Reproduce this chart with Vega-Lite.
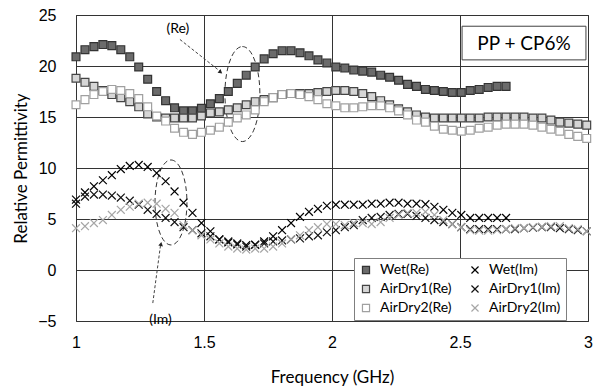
{
  "$schema": "https://vega.github.io/schema/vega-lite/v6.json",
  "width": 512,
  "height": 306,
  "autosize": {"type": "none"},
  "padding": {"left": 76, "top": 15, "right": 7, "bottom": 70},
  "background": "white",
  "config": {
    "view": {"stroke": "#333", "strokeWidth": 1},
    "axis": {
      "grid": true, "gridColor": "#333", "gridWidth": 1, "gridOpacity": 1,
      "ticks": false, "domain": false,
      "labelFont": "Liberation Sans", "labelFontSize": 16, "labelColor": "#000",
      "labelFlush": false, "labelOverlap": false, "labelBound": false,
      "titleFont": "Lato", "titleFontSize": 17, "titleFontWeight": "normal", "titleColor": "#000"
    }
  },
  "datasets": {
    "pts": [
      {"f": 1.000, "Wet(Re)": 20.9, "Wet(Im)": 6.9, "AirDry1(Re)": 18.8, "AirDry1(Im)": 6.5, "AirDry2(Re)": 16.2, "AirDry2(Im)": 4.1},
      {"f": 1.035, "Wet(Re)": 21.6, "Wet(Im)": 7.6, "AirDry1(Re)": 18.4, "AirDry1(Im)": 7.2, "AirDry2(Re)": 16.7, "AirDry2(Im)": 4.3},
      {"f": 1.070, "Wet(Re)": 21.9, "Wet(Im)": 8.2, "AirDry1(Re)": 18.0, "AirDry1(Im)": 7.4, "AirDry2(Re)": 17.2, "AirDry2(Im)": 4.6},
      {"f": 1.105, "Wet(Re)": 22.1, "Wet(Im)": 8.8, "AirDry1(Re)": 17.6, "AirDry1(Im)": 7.4, "AirDry2(Re)": 17.5, "AirDry2(Im)": 4.9},
      {"f": 1.140, "Wet(Re)": 22.0, "Wet(Im)": 9.3, "AirDry1(Re)": 17.2, "AirDry1(Im)": 7.3, "AirDry2(Re)": 17.7, "AirDry2(Im)": 5.4},
      {"f": 1.175, "Wet(Re)": 21.6, "Wet(Im)": 9.9, "AirDry1(Re)": 16.9, "AirDry1(Im)": 7.1, "AirDry2(Re)": 17.6, "AirDry2(Im)": 5.9},
      {"f": 1.210, "Wet(Re)": 20.9, "Wet(Im)": 10.2, "AirDry1(Re)": 16.5, "AirDry1(Im)": 6.8, "AirDry2(Re)": 17.3, "AirDry2(Im)": 6.2},
      {"f": 1.245, "Wet(Re)": 19.9, "Wet(Im)": 10.3, "AirDry1(Re)": 16.0, "AirDry1(Im)": 6.4, "AirDry2(Re)": 16.8, "AirDry2(Im)": 6.5},
      {"f": 1.280, "Wet(Re)": 18.7, "Wet(Im)": 10.1, "AirDry1(Re)": 15.3, "AirDry1(Im)": 5.9, "AirDry2(Re)": 16.0, "AirDry2(Im)": 6.6},
      {"f": 1.315, "Wet(Re)": 17.5, "Wet(Im)": 9.5, "AirDry1(Re)": 15.0, "AirDry1(Im)": 5.5, "AirDry2(Re)": 15.1, "AirDry2(Im)": 6.5},
      {"f": 1.350, "Wet(Re)": 16.6, "Wet(Im)": 8.7, "AirDry1(Re)": 14.9, "AirDry1(Im)": 5.1, "AirDry2(Re)": 14.6, "AirDry2(Im)": 6.0},
      {"f": 1.385, "Wet(Re)": 15.9, "Wet(Im)": 7.7, "AirDry1(Re)": 14.9, "AirDry1(Im)": 4.7, "AirDry2(Re)": 13.9, "AirDry2(Im)": 5.6},
      {"f": 1.420, "Wet(Re)": 15.6, "Wet(Im)": 6.6, "AirDry1(Re)": 14.9, "AirDry1(Im)": 4.2, "AirDry2(Re)": 13.5, "AirDry2(Im)": 4.4},
      {"f": 1.455, "Wet(Re)": 15.6, "Wet(Im)": 5.6, "AirDry1(Re)": 14.9, "AirDry1(Im)": 3.9, "AirDry2(Re)": 13.3, "AirDry2(Im)": 3.9},
      {"f": 1.490, "Wet(Re)": 15.85, "Wet(Im)": 4.6, "AirDry1(Re)": 15.1, "AirDry1(Im)": 3.6, "AirDry2(Re)": 13.5, "AirDry2(Im)": 3.4},
      {"f": 1.525, "Wet(Re)": 16.3, "Wet(Im)": 3.8, "AirDry1(Re)": 15.4, "AirDry1(Im)": 3.3, "AirDry2(Re)": 13.7, "AirDry2(Im)": 3.0},
      {"f": 1.560, "Wet(Re)": 16.8, "Wet(Im)": 3.0, "AirDry1(Re)": 15.5, "AirDry1(Im)": 3.0, "AirDry2(Re)": 14.0, "AirDry2(Im)": 2.6},
      {"f": 1.595, "Wet(Re)": 17.5, "Wet(Im)": 2.7, "AirDry1(Re)": 15.7, "AirDry1(Im)": 2.8, "AirDry2(Re)": 14.5, "AirDry2(Im)": 2.3},
      {"f": 1.630, "Wet(Re)": 18.3, "Wet(Im)": 2.5, "AirDry1(Re)": 15.9, "AirDry1(Im)": 2.6, "AirDry2(Re)": 14.9, "AirDry2(Im)": 2.1},
      {"f": 1.665, "Wet(Re)": 19.1, "Wet(Im)": 2.45, "AirDry1(Re)": 16.2, "AirDry1(Im)": 2.3, "AirDry2(Re)": 15.2, "AirDry2(Im)": 2.0},
      {"f": 1.700, "Wet(Re)": 19.9, "Wet(Im)": 2.5, "AirDry1(Re)": 16.5, "AirDry1(Im)": 2.45, "AirDry2(Re)": 15.7, "AirDry2(Im)": 2.1},
      {"f": 1.735, "Wet(Re)": 20.7, "Wet(Im)": 2.8, "AirDry1(Re)": 16.7, "AirDry1(Im)": 2.6, "AirDry2(Re)": 16.5, "AirDry2(Im)": 2.1},
      {"f": 1.770, "Wet(Re)": 21.2, "Wet(Im)": 3.3, "AirDry1(Re)": 16.9, "AirDry1(Im)": 2.8, "AirDry2(Re)": 16.9, "AirDry2(Im)": 2.3},
      {"f": 1.805, "Wet(Re)": 21.5, "Wet(Im)": 3.9, "AirDry1(Re)": 17.2, "AirDry1(Im)": 2.9, "AirDry2(Re)": 17.2, "AirDry2(Im)": 2.6},
      {"f": 1.840, "Wet(Re)": 21.5, "Wet(Im)": 4.6, "AirDry1(Re)": 17.3, "AirDry1(Im)": 3.0, "AirDry2(Re)": 17.3, "AirDry2(Im)": 3.0},
      {"f": 1.875, "Wet(Re)": 21.3, "Wet(Im)": 5.2, "AirDry1(Re)": 17.3, "AirDry1(Im)": 3.1, "AirDry2(Re)": 17.2, "AirDry2(Im)": 3.4},
      {"f": 1.910, "Wet(Re)": 21.0, "Wet(Im)": 5.7, "AirDry1(Re)": 17.3, "AirDry1(Im)": 3.3, "AirDry2(Re)": 17.0, "AirDry2(Im)": 3.9},
      {"f": 1.945, "Wet(Re)": 20.6, "Wet(Im)": 6.0, "AirDry1(Re)": 17.4, "AirDry1(Im)": 3.4, "AirDry2(Re)": 16.7, "AirDry2(Im)": 4.2},
      {"f": 1.980, "Wet(Re)": 20.3, "Wet(Im)": 6.3, "AirDry1(Re)": 17.5, "AirDry1(Im)": 3.7, "AirDry2(Re)": 16.3, "AirDry2(Im)": 4.5},
      {"f": 2.015, "Wet(Re)": 19.9, "Wet(Im)": 6.4, "AirDry1(Re)": 17.6, "AirDry1(Im)": 3.9, "AirDry2(Re)": 16.1, "AirDry2(Im)": 4.5},
      {"f": 2.050, "Wet(Re)": 19.8, "Wet(Im)": 6.4, "AirDry1(Re)": 17.6, "AirDry1(Im)": 4.2, "AirDry2(Re)": 15.9, "AirDry2(Im)": 4.4},
      {"f": 2.085, "Wet(Re)": 19.6, "Wet(Im)": 6.4, "AirDry1(Re)": 17.5, "AirDry1(Im)": 4.4, "AirDry2(Re)": 15.9, "AirDry2(Im)": 4.6},
      {"f": 2.120, "Wet(Re)": 19.5, "Wet(Im)": 6.4, "AirDry1(Re)": 17.3, "AirDry1(Im)": 4.9, "AirDry2(Re)": 16.0, "AirDry2(Im)": 4.6},
      {"f": 2.155, "Wet(Re)": 19.4, "Wet(Im)": 6.5, "AirDry1(Re)": 17.0, "AirDry1(Im)": 5.1, "AirDry2(Re)": 16.1, "AirDry2(Im)": 4.5},
      {"f": 2.190, "Wet(Re)": 19.1, "Wet(Im)": 6.5, "AirDry1(Re)": 16.6, "AirDry1(Im)": 5.2, "AirDry2(Re)": 16.1, "AirDry2(Im)": 4.7},
      {"f": 2.225, "Wet(Re)": 18.9, "Wet(Im)": 6.6, "AirDry1(Re)": 16.2, "AirDry1(Im)": 5.4, "AirDry2(Re)": 15.9, "AirDry2(Im)": 5.1},
      {"f": 2.260, "Wet(Re)": 18.6, "Wet(Im)": 6.6, "AirDry1(Re)": 15.8, "AirDry1(Im)": 5.5, "AirDry2(Re)": 15.6, "AirDry2(Im)": 5.4},
      {"f": 2.295, "Wet(Re)": 18.2, "Wet(Im)": 6.5, "AirDry1(Re)": 15.5, "AirDry1(Im)": 5.5, "AirDry2(Re)": 15.2, "AirDry2(Im)": 5.6},
      {"f": 2.330, "Wet(Re)": 18.0, "Wet(Im)": 6.5, "AirDry1(Re)": 15.2, "AirDry1(Im)": 5.3, "AirDry2(Re)": 14.7, "AirDry2(Im)": 5.6},
      {"f": 2.365, "Wet(Re)": 17.7, "Wet(Im)": 6.45, "AirDry1(Re)": 15.0, "AirDry1(Im)": 5.1, "AirDry2(Re)": 14.5, "AirDry2(Im)": 5.7},
      {"f": 2.400, "Wet(Re)": 17.6, "Wet(Im)": 6.2, "AirDry1(Re)": 14.9, "AirDry1(Im)": 4.9, "AirDry2(Re)": 14.1, "AirDry2(Im)": 5.4},
      {"f": 2.435, "Wet(Re)": 17.5, "Wet(Im)": 5.9, "AirDry1(Re)": 14.9, "AirDry1(Im)": 4.7, "AirDry2(Re)": 13.8, "AirDry2(Im)": 4.9},
      {"f": 2.470, "Wet(Re)": 17.4, "Wet(Im)": 5.6, "AirDry1(Re)": 14.9, "AirDry1(Im)": 4.5, "AirDry2(Re)": 13.7, "AirDry2(Im)": 4.5},
      {"f": 2.505, "Wet(Re)": 17.4, "Wet(Im)": 5.4, "AirDry1(Re)": 14.9, "AirDry1(Im)": 4.2, "AirDry2(Re)": 13.6, "AirDry2(Im)": 4.2},
      {"f": 2.540, "Wet(Re)": 17.6, "Wet(Im)": 5.1, "AirDry1(Re)": 14.9, "AirDry1(Im)": 4.0, "AirDry2(Re)": 13.7, "AirDry2(Im)": 3.9},
      {"f": 2.575, "Wet(Re)": 17.7, "Wet(Im)": 5.1, "AirDry1(Re)": 14.9, "AirDry1(Im)": 4.0, "AirDry2(Re)": 13.9, "AirDry2(Im)": 3.85},
      {"f": 2.610, "Wet(Re)": 17.9, "Wet(Im)": 5.1, "AirDry1(Re)": 15.0, "AirDry1(Im)": 4.0, "AirDry2(Re)": 14.0, "AirDry2(Im)": 3.85},
      {"f": 2.645, "Wet(Re)": 18.0, "Wet(Im)": 5.1, "AirDry1(Re)": 15.0, "AirDry1(Im)": 4.0, "AirDry2(Re)": 14.2, "AirDry2(Im)": 3.9},
      {"f": 2.680, "Wet(Re)": 18.0, "Wet(Im)": 5.1, "AirDry1(Re)": 15.0, "AirDry1(Im)": 4.0, "AirDry2(Re)": 14.3, "AirDry2(Im)": 4.0},
      {"f": 2.715, "AirDry1(Re)": 15.0, "AirDry1(Im)": 4.0, "AirDry2(Re)": 14.3, "AirDry2(Im)": 4.1},
      {"f": 2.750, "AirDry1(Re)": 15.0, "AirDry1(Im)": 4.1, "AirDry2(Re)": 14.3, "AirDry2(Im)": 4.1},
      {"f": 2.785, "AirDry1(Re)": 14.9, "AirDry1(Im)": 4.15, "AirDry2(Re)": 14.2, "AirDry2(Im)": 4.2},
      {"f": 2.820, "AirDry1(Re)": 14.9, "AirDry1(Im)": 4.2, "AirDry2(Re)": 14.0, "AirDry2(Im)": 4.25},
      {"f": 2.855, "AirDry1(Re)": 14.7, "AirDry1(Im)": 4.2, "AirDry2(Re)": 13.8, "AirDry2(Im)": 4.3},
      {"f": 2.890, "AirDry1(Re)": 14.5, "AirDry1(Im)": 4.1, "AirDry2(Re)": 13.6, "AirDry2(Im)": 4.3},
      {"f": 2.925, "AirDry1(Re)": 14.4, "AirDry1(Im)": 4.0, "AirDry2(Re)": 13.3, "AirDry2(Im)": 4.1},
      {"f": 2.960, "AirDry1(Re)": 14.3, "AirDry1(Im)": 3.9, "AirDry2(Re)": 13.1, "AirDry2(Im)": 4.0},
      {"f": 2.995, "AirDry1(Re)": 14.2, "AirDry1(Im)": 3.8, "AirDry2(Re)": 12.9, "AirDry2(Im)": 3.8}
    ]
  },
  "encoding": {
    "x": {"field": "f", "type": "quantitative",
      "scale": {"domain": [1, 3], "nice": false, "zero": false},
      "axis": {"values": [1, 1.5, 2, 2.5, 3], "format": "~g", "title": "Frequency (GHz)", "labelPadding": 13, "titlePadding": 19}},
    "y": {"field": "v", "type": "quantitative",
      "scale": {"domain": [-5, 25], "nice": false, "zero": false},
      "axis": {"values": [-5, 0, 5, 10, 15, 20, 25], "format": "d", "title": "Relative Permittivity", "labelPadding": 20, "titlePadding": 7}}
  },
  "layer": [
    {
      "data": {"values": [{"f": 2.508, "f2": 2.992, "v": 23.9, "v2": 20.6}]},
      "mark": {"type": "rect", "fill": "white", "stroke": "#404040", "strokeWidth": 1},
      "encoding": {"x2": {"field": "f2"}, "y2": {"field": "v2"}}
    },
    {
      "data": {"values": [{"f": 2.75, "v": 22.2, "t": "PP + CP6%"}]},
      "mark": {"type": "text", "font": "Lato", "fontSize": 19, "color": "#000", "align": "center", "baseline": "middle"},
      "encoding": {"text": {"field": "t"}}
    },
    {
      "data": {"values": [{"f": 1.65, "v": 17.25}]},
      "mark": {"type": "point", "shape": "M0,-1A0.368,1,0,1,1,0,1A0.368,1,0,1,1,0,-1Z", "size": 9025, "filled": false, "opacity": 1, "stroke": "#333", "strokeWidth": 1, "strokeDash": [5, 3]}
    },
    {
      "data": {"values": [{"f": 1.371, "v": 6.62}]},
      "mark": {"type": "point", "shape": "M0,-1A0.376,1,0,1,1,0,1A0.376,1,0,1,1,0,-1Z", "size": 7225, "filled": false, "opacity": 1, "stroke": "#333", "strokeWidth": 1, "strokeDash": [5, 3]}
    },
    {
      "data": {"values": [{"f": 1.406, "v": 22.6, "f2": 1.562, "v2": 19.5}, {"f": 1.30, "v": -3.24, "f2": 1.33, "v2": 2.4}]},
      "mark": {"type": "rule", "stroke": "#444", "strokeWidth": 1, "strokeDash": [3, 2]},
      "encoding": {"x2": {"field": "f2"}, "y2": {"field": "v2"}}
    },
    {
      "data": {"values": [{"f": 1.565, "v": 19.4}]},
      "mark": {"type": "point", "shape": "triangle-up", "size": 22, "filled": true, "opacity": 1, "color": "#222", "angle": 129}
    },
    {
      "data": {"values": [{"f": 1.332, "v": 2.55}]},
      "mark": {"type": "point", "shape": "triangle-up", "size": 22, "filled": true, "opacity": 1, "color": "#222", "angle": 10}
    },
    {
      "data": {"values": [{"f": 1.398, "v": 23.6, "t": "(Re)"}, {"f": 1.33, "v": -4.9, "t": "(Im)"}]},
      "mark": {"type": "text", "font": "Lato", "fontSize": 14, "color": "#000", "align": "center", "baseline": "middle"},
      "encoding": {"text": {"field": "t"}}
    },
    {
      "data": {"name": "pts"},
      "transform": [
        {"fold": ["Wet(Re)", "Wet(Im)", "AirDry1(Re)", "AirDry1(Im)", "AirDry2(Re)", "AirDry2(Im)"], "as": ["series", "v"]},
        {"filter": "isValid(datum.v)"}
      ],
      "mark": {"type": "point", "filled": true, "opacity": 1, "size": 62, "strokeWidth": 1.2},
      "encoding": {
        "shape": {"field": "series", "type": "nominal",
          "scale": {"domain": ["Wet(Re)", "AirDry1(Re)", "AirDry2(Re)", "Wet(Im)", "AirDry1(Im)", "AirDry2(Im)"],
            "range": ["square", "square", "square", "M-1,-1L1,1M-1,1L1,-1", "M-1,-1L1,1M-1,1L1,-1", "M-1,-1L1,1M-1,1L1,-1"]},
          "legend": {"orient": "none", "legendX": 278, "legendY": 243, "columns": 2, "title": null, "fillColor": "white", "strokeColor": "#7f7f7f", "padding": 5, "rowPadding": 5, "columnPadding": 16, "symbolSize": 50, "symbolStrokeWidth": 1.2, "labelFont": "Lato", "labelFontSize": 14, "labelColor": "#000", "labelOffset": 7, "zindex": 1}},
        "fill": {"field": "series", "type": "nominal",
          "scale": {"domain": ["Wet(Re)", "AirDry1(Re)", "AirDry2(Re)", "Wet(Im)", "AirDry1(Im)", "AirDry2(Im)"],
            "range": ["#6b6b6b", "#d6d6d6", "#ffffff", "#000000", "#000000", "#a6a6a6"]},
          "legend": {"orient": "none", "legendX": 278, "legendY": 243, "columns": 2, "title": null, "fillColor": "white", "strokeColor": "#7f7f7f", "padding": 5, "rowPadding": 5, "columnPadding": 16, "symbolSize": 50, "symbolStrokeWidth": 1.2, "labelFont": "Lato", "labelFontSize": 14, "labelColor": "#000", "labelOffset": 7, "zindex": 1}},
        "stroke": {"field": "series", "type": "nominal",
          "scale": {"domain": ["Wet(Re)", "AirDry1(Re)", "AirDry2(Re)", "Wet(Im)", "AirDry1(Im)", "AirDry2(Im)"],
            "range": ["#333333", "#444444", "#a0a0a0", "#000000", "#111111", "#a6a6a6"]},
          "legend": {"orient": "none", "legendX": 278, "legendY": 243, "columns": 2, "title": null, "fillColor": "white", "strokeColor": "#7f7f7f", "padding": 5, "rowPadding": 5, "columnPadding": 16, "symbolSize": 50, "symbolStrokeWidth": 1.2, "labelFont": "Lato", "labelFontSize": 14, "labelColor": "#000", "labelOffset": 7, "zindex": 1}}
      }
    }
  ]
}
